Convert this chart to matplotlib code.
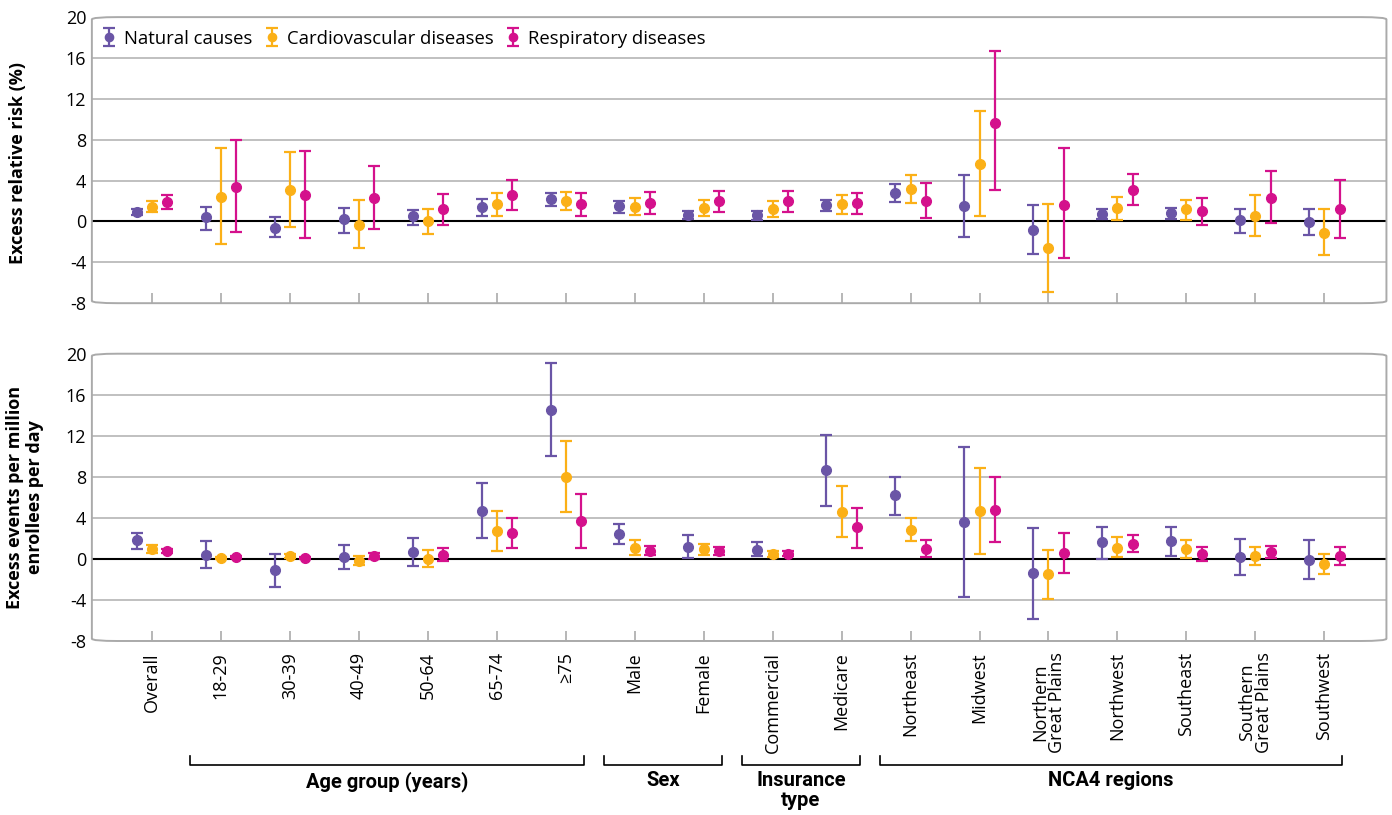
import matplotlib
matplotlib.use("Agg")
import matplotlib.pyplot as plt
from matplotlib.patches import FancyBboxPatch
from matplotlib.transforms import blended_transform_factory
import numpy as np

plt.rcParams['font.family'] = ['Open Sans', 'DejaVu Sans']

categories = ["Overall", "18-29", "30-39", "40-49", "50-64", "65-74", "≥75",
              "Male", "Female", "Commercial", "Medicare",
              "Northeast", "Midwest", "Northern\nGreat Plains", "Northwest",
              "Southeast", "Southern\nGreat Plains", "Southwest"]

series_names = ["Natural causes", "Cardiovascular diseases", "Respiratory diseases"]
colors = ["#6a55a6", "#fbb017", "#d4118c"]

# panel 1: excess relative risk (%) - estimate, lower, upper
rr_nat = [0.9, 0.4, -0.6, 0.2, 0.5, 1.4, 2.2, 1.5, 0.6, 0.6, 1.6, 2.8, 1.5, -0.8, 0.7, 0.8, 0.1, -0.1]
rr_nat_lo = [0.6, -0.8, -1.5, -1.1, -0.3, 0.5, 1.5, 0.8, 0.2, 0.1, 1.0, 1.9, -1.5, -3.2, 0.2, 0.2, -1.1, -1.3]
rr_nat_hi = [1.2, 1.4, 0.4, 1.3, 1.1, 2.2, 2.8, 2.0, 1.0, 1.0, 2.1, 3.7, 4.5, 1.6, 1.2, 1.3, 1.2, 1.2]
rr_cvd = [1.4, 2.4, 3.1, -0.3, 0.0, 1.7, 2.0, 1.4, 1.3, 1.2, 1.7, 3.2, 5.6, -2.6, 1.3, 1.2, 0.5, -1.1]
rr_cvd_lo = [0.9, -2.2, -0.5, -2.6, -1.2, 0.5, 1.1, 0.6, 0.5, 0.4, 0.7, 1.8, 0.5, -6.9, 0.1, 0.1, -1.4, -3.3]
rr_cvd_hi = [2.0, 7.2, 6.8, 2.1, 1.2, 2.8, 2.9, 2.3, 2.1, 2.0, 2.6, 4.5, 10.8, 1.7, 2.4, 2.1, 2.6, 1.2]
rr_resp = [1.9, 3.4, 2.6, 2.3, 1.2, 2.6, 1.7, 1.8, 2.0, 2.0, 1.8, 2.0, 9.6, 1.6, 3.1, 1.0, 2.3, 1.2]
rr_resp_lo = [1.2, -1.0, -1.6, -0.7, -0.3, 1.1, 0.5, 0.7, 0.9, 0.9, 0.7, 0.3, 3.1, -3.6, 1.6, -0.3, -0.2, -1.6]
rr_resp_hi = [2.6, 8.0, 6.9, 5.4, 2.7, 4.1, 2.8, 2.9, 3.0, 3.0, 2.8, 3.8, 16.7, 7.2, 4.6, 2.3, 4.9, 4.1]

# panel 2: excess events per million enrollees per day
ev_nat = [1.8, 0.4, -1.1, 0.2, 0.7, 4.7, 14.5, 2.4, 1.2, 0.9, 8.7, 6.2, 3.6, -1.4, 1.6, 1.7, 0.2, -0.1]
ev_nat_lo = [1.0, -0.9, -2.7, -1.0, -0.7, 2.0, 10.0, 1.5, 0.1, 0.3, 5.2, 4.3, -3.7, -5.9, 0.0, 0.3, -1.6, -2.0]
ev_nat_hi = [2.5, 1.7, 0.5, 1.4, 2.0, 7.4, 19.1, 3.4, 2.3, 1.6, 12.1, 8.0, 10.9, 3.0, 3.1, 3.1, 1.9, 1.8]
ev_cvd = [1.0, 0.1, 0.3, -0.2, 0.0, 2.7, 8.0, 1.1, 1.0, 0.5, 4.6, 2.8, 4.7, -1.5, 1.1, 1.0, 0.3, -0.5]
ev_cvd_lo = [0.6, 0.0, 0.1, -0.6, -0.8, 0.8, 4.6, 0.4, 0.4, 0.2, 2.1, 1.7, 0.5, -3.9, 0.2, 0.1, -0.6, -1.5]
ev_cvd_hi = [1.4, 0.2, 0.5, 0.3, 0.9, 4.7, 11.5, 1.8, 1.5, 0.8, 7.1, 4.0, 8.9, 0.9, 2.1, 1.8, 1.2, 0.5]
ev_resp = [0.8, 0.2, 0.1, 0.3, 0.4, 2.5, 3.7, 0.8, 0.8, 0.5, 3.1, 1.0, 4.8, 0.6, 1.5, 0.5, 0.7, 0.3]
ev_resp_lo = [0.6, 0.1, 0.0, 0.0, -0.2, 1.1, 1.1, 0.4, 0.4, 0.3, 1.1, 0.2, 1.6, -1.4, 0.7, -0.2, 0.1, -0.6]
ev_resp_hi = [1.0, 0.3, 0.2, 0.6, 1.1, 4.0, 6.3, 1.3, 1.2, 0.8, 5.0, 1.8, 8.0, 2.5, 2.3, 1.2, 1.3, 1.2]

groups = [("Age group (years)", 1, 6), ("Sex", 7, 8),
          ("Insurance\ntype", 9, 10), ("NCA4 regions", 11, 17)]

yticks = [-8, -4, 0, 4, 8, 12, 16, 20]

fig = plt.figure(figsize=(13.92, 8.15), dpi=100)
ax1 = fig.add_axes([0.066, 0.628, 0.930, 0.351])
ax2 = fig.add_axes([0.066, 0.2135, 0.930, 0.3525])

x = np.arange(len(categories))
offsets = [-0.22, 0.0, 0.22]


def draw_panel(ax, data):
    for k, (est, lo, hi) in enumerate(data):
        est = np.array(est)
        err = [est - np.array(lo), np.array(hi) - est]
        ax.errorbar(x + offsets[k], est, yerr=err, fmt='o', color=colors[k],
                    ms=7, elinewidth=1.6, capsize=4, capthick=1.6,
                    label=series_names[k], zorder=3)
    ax.set_xlim(-0.87, 17.9)
    ax.set_ylim(-8, 20)
    ax.set_yticks(yticks)
    ax.set_yticklabels([str(v) for v in yticks], fontsize=13)
    for v in yticks[1:-1]:
        if v == 0:
            ax.axhline(0, color='black', lw=1.5, zorder=2)
        else:
            ax.axhline(v, color='#b5b5b5', lw=1.2, zorder=1)
    ax.set_xticks(x)
    ax.tick_params(axis='x', direction='in', length=7, color='#aaaaaa', width=1.2)
    ax.tick_params(axis='y', length=0, pad=4)
    for s in ax.spines.values():
        s.set_visible(False)
    box = FancyBboxPatch((0, 0), 1, 1, boxstyle="round,pad=0,rounding_size=0.02",
                         transform=ax.transAxes, fill=False, ec='#aaaaaa', lw=1.4,
                         clip_on=False, zorder=4, mutation_aspect=0.4)
    ax.add_patch(box)


draw_panel(ax1, [(rr_nat, rr_nat_lo, rr_nat_hi),
                 (rr_cvd, rr_cvd_lo, rr_cvd_hi),
                 (rr_resp, rr_resp_lo, rr_resp_hi)])
draw_panel(ax2, [(ev_nat, ev_nat_lo, ev_nat_hi),
                 (ev_cvd, ev_cvd_lo, ev_cvd_hi),
                 (ev_resp, ev_resp_lo, ev_resp_hi)])

ax1.set_xticklabels([])
ax2.set_xticklabels(categories, rotation=90, fontsize=13, va='top', ha='center',
                    linespacing=0.95)
ax2.tick_params(axis='x', pad=8)

ax1.legend(loc='upper left', ncol=3, frameon=False, fontsize=13.3,
           handlelength=0.7, handletextpad=0.45, columnspacing=0.7,
           borderaxespad=0.2, bbox_to_anchor=(0.0, 0.995), markerscale=0.85)

fig.text(0.013, 0.80, "Excess relative risk (%)", rotation=90, ha='center',
         va='center', fontsize=13, fontweight='bold')
fig.text(0.018, 0.39, "Excess events per million\nenrollees per day", rotation=90,
         ha='center', va='center', fontsize=13, fontweight='bold', linespacing=1.1)

# group brackets under the labels
trans = blended_transform_factory(ax2.transData, fig.transFigure)
y_line = 1 - 765 / 815
y_tip = 1 - 756 / 815
for name, a, b in groups:
    x0, x1 = a - 0.44, b + 0.26
    ax2.plot([x0, x0, x1, x1], [y_tip, y_line, y_line, y_tip], color='black',
             lw=1.2, transform=trans, clip_on=False)
    ax2.text((x0 + x1) / 2, 1 - 771 / 815, name, transform=trans, ha='center',
             va='top', fontsize=14.5, fontweight='bold', linespacing=1.05,
             family=['Roboto', 'DejaVu Sans'])

fig.savefig("out.png", dpi=100)
